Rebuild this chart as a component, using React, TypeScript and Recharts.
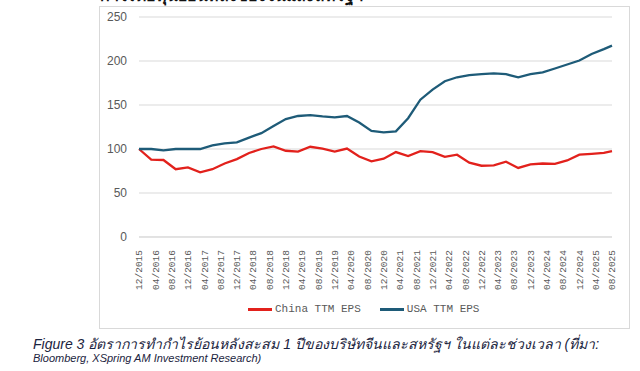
import React from 'react';
import { CartesianGrid, Line, LineChart, XAxis, YAxis } from 'recharts';

// months since 12/2015 for each data point (quarterly, last one is 08/2025)
const pointMonths = [
  0, 3, 6, 9, 12, 15, 18, 21, 24, 27, 30, 33, 36, 39, 42, 45, 48, 51, 54, 57,
  60, 63, 66, 69, 72, 75, 78, 81, 84, 87, 90, 93, 96, 99, 102, 105, 108, 111, 114, 116,
];

const chinaEps = [
  100, 88, 87.5, 77, 79, 73.5, 77, 83.5, 88.5, 95.5, 100, 103, 98, 97, 102.5, 100.5, 97, 100.5, 91.5, 86,
  89, 96.5, 92, 97.5, 96.5, 91, 93.5, 84.5, 81, 81.5, 85.5, 78.5, 82.5, 83.5, 83, 87, 93.5, 94.5, 95.5, 97.5,
];

const usaEps = [
  100, 100, 98.5, 100, 100, 100, 104, 106.5, 107.5, 113, 118, 126, 134, 137.5, 138.5, 137, 136, 137.5, 130, 120.5,
  119, 120, 135, 156, 167.5, 177, 181.5, 184, 185, 186, 185, 181.5, 185, 187, 191.5, 196, 200.5, 208, 213.5, 217.5,
];

const tickMonths = [
  0, 4, 8, 12, 16, 20, 24, 28, 32, 36, 40, 44, 48, 52, 56, 60, 64, 68, 72, 76,
  80, 84, 88, 92, 96, 100, 104, 108, 112, 116,
];

const tickLabels = [
  '12/2015', '04/2016', '08/2016', '12/2016', '04/2017', '08/2017', '12/2017', '04/2018', '08/2018', '12/2018',
  '04/2019', '08/2019', '12/2019', '04/2020', '08/2020', '12/2020', '04/2021', '08/2021', '12/2021', '04/2022',
  '08/2022', '12/2022', '04/2023', '08/2023', '12/2023', '04/2024', '08/2024', '12/2024', '04/2025', '08/2025',
];

const yTicks = [0, 50, 100, 150, 200, 250];

const seriesNames = ['China TTM EPS', 'USA TTM EPS'];

const RED = '#e2211c';
const BLUE = '#1e5b78';
const MUTED = '#595959';

const chartData = pointMonths.map((m, i) => ({
  m,
  china: chinaEps[i],
  usa: usaEps[i],
}));

function DateTick({ x, y, payload }: any) {
  const label = tickLabels[tickMonths.indexOf(payload.value)];
  const ty = y + 5;
  return (
    <text
      x={x}
      y={ty}
      dy={3.3}
      transform={`rotate(-90 ${x} ${ty})`}
      textAnchor="end"
      fill={MUTED}
      fontSize={9.5}
      fontFamily="'Liberation Mono', 'Courier New', monospace"
    >
      {label}
    </text>
  );
}

function LegendItem({ color, name }: { color: string; name: string }) {
  return (
    <div style={{ display: 'flex', alignItems: 'center', marginRight: 19 }}>
      <div style={{ width: 24, height: 3, background: color, marginRight: 3 }} />
      <span>{name}</span>
    </div>
  );
}

export default function App() {
  return (
    <div
      style={{
        position: 'absolute',
        left: 0,
        top: 0,
        width: 640,
        height: 371,
        overflow: 'hidden',
        background: '#fff',
        fontFamily: "'Liberation Sans', Arial, sans-serif",
      }}
    >
      {/* heading of the page above, only its lower edge shows */}
      <div
        style={{
          position: 'absolute',
          left: 100,
          top: -17,
          fontSize: 16,
          fontWeight: 700,
          color: '#111',
          whiteSpace: 'nowrap',
        }}
      >
        กำไรต่อหุ้นย้อนหลังของจีนและสหรัฐฯ
      </div>

      <div
        style={{
          position: 'absolute',
          left: 99,
          top: 6,
          width: 529,
          height: 321,
          border: '1px solid #d9d9d9',
        }}
      />

      <div style={{ position: 'absolute', left: 99, top: 5 }}>
        <LineChart
          width={530}
          height={300}
          data={chartData}
          margin={{ top: 12, right: 17, left: 0, bottom: 0 }}
        >
          <CartesianGrid horizontal vertical={false} stroke="#d9d9d9" />
          <XAxis
            dataKey="m"
            type="number"
            domain={[0, 116]}
            ticks={tickMonths}
            interval={0}
            height={68}
            axisLine={{ stroke: '#d9d9d9' }}
            tickLine={false}
            tick={<DateTick />}
          />
          <YAxis
            domain={[0, 250]}
            ticks={yTicks}
            width={40}
            axisLine={false}
            tickLine={false}
            tickSize={0}
            tickMargin={12}
            tick={{ fontSize: 12, fill: MUTED }}
          />
          <Line
            dataKey="china"
            name={seriesNames[0]}
            stroke={RED}
            strokeWidth={2.3}
            dot={false}
            isAnimationActive={false}
          />
          <Line
            dataKey="usa"
            name={seriesNames[1]}
            stroke={BLUE}
            strokeWidth={2.3}
            dot={false}
            isAnimationActive={false}
          />
        </LineChart>
      </div>

      <div
        style={{
          position: 'absolute',
          left: 248,
          top: 303,
          display: 'flex',
          fontSize: 11,
          color: MUTED,
          fontFamily: "'Liberation Mono', 'Courier New', monospace",
        }}
      >
        <LegendItem color={RED} name={seriesNames[0]} />
        <LegendItem color={BLUE} name={seriesNames[1]} />
      </div>

      <div
        style={{
          position: 'absolute',
          left: 33,
          top: 337,
          fontStyle: 'italic',
          color: '#1b2440',
          whiteSpace: 'nowrap',
        }}
      >
        <div style={{ fontSize: 14, lineHeight: '15px' }}>
          Figure 3 อัตราการทำกำไรย้อนหลังสะสม 1 ปีของบริษัทจีนและสหรัฐฯ ในแต่ละช่วงเวลา (ที่มา:
        </div>
        <div style={{ fontSize: 11, lineHeight: '13px' }}>Bloomberg, XSpring AM Investment Research)</div>
      </div>
    </div>
  );
}
